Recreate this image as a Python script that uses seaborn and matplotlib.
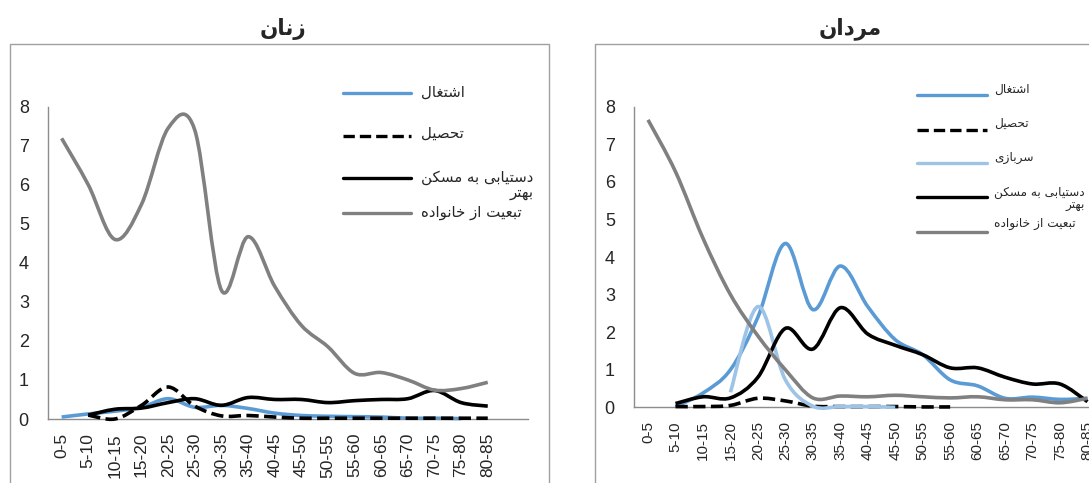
import numpy as np
import seaborn as sns
import matplotlib.pyplot as plt
from matplotlib.path import Path
from matplotlib.patches import PathPatch
from matplotlib.lines import Line2D

# age groups (last slot on the axis is empty)
age_groups = ['0-5', '5-10', '10-15', '15-20', '20-25', '25-30', '30-35', '35-40',
              '40-45', '45-50', '50-55', '55-60', '60-65', '65-70', '70-75', '75-80',
              '80-85', '']
nan = np.nan

# women
w_employment = [0.05, 0.13, 0.2, 0.3, 0.52, 0.3, 0.35, 0.27, 0.15, 0.09, 0.07, 0.06,
                0.05, 0.02, 0.02, 0.01, nan]
w_education = [nan, 0.1, 0.0, 0.35, 0.82, 0.33, 0.08, 0.09, 0.05, 0.02, 0.02, 0.02,
               0.02, 0.02, 0.02, 0.02, 0.02]
w_housing = [nan, 0.1, 0.25, 0.28, 0.42, 0.52, 0.35, 0.55, 0.5, 0.5, 0.42, 0.47,
             0.5, 0.52, 0.73, 0.42, 0.33]
w_family = [7.19, 6.0, 4.6, 5.5, 7.45, 7.4, 3.3, 4.67, 3.4, 2.4, 1.85, 1.17,
            1.19, 1.0, 0.74, 0.78, 0.94]

# men
m_employment = [nan, 0.02, 0.38, 1.0, 2.4, 4.36, 2.6, 3.76, 2.68, 1.8, 1.4, 0.73,
                0.57, 0.24, 0.27, 0.21, 0.24]
m_education = [nan, 0.02, 0.02, 0.05, 0.24, 0.17, 0.03, 0.02, 0.02, 0.02, 0.01, 0.01,
               nan, nan, nan, nan, nan]
m_military = [nan, nan, nan, 0.4, 2.68, 0.73, 0.03, 0.02, 0.02, 0.0, nan, nan,
              nan, nan, nan, nan, nan]
m_housing = [nan, 0.1, 0.28, 0.25, 0.8, 2.1, 1.55, 2.65, 1.95, 1.65, 1.4, 1.05,
             1.05, 0.8, 0.62, 0.62, 0.15]
m_family = [7.65, 6.27, 4.5, 3.0, 1.9, 1.0, 0.25, 0.3, 0.28, 0.32, 0.28, 0.25,
            0.28, 0.2, 0.2, 0.12, 0.24]

# labels
title_women = 'زنان'
title_men = 'مردان'
lab_employment = 'اشتغال'
lab_education = 'تحصیل'
lab_military = 'سربازی'
lab_housing = 'دستیابی به مسکن\nبهتر'
lab_family = 'تبعیت از خانواده'

# --- simple Persian shaping (matplotlib has no RTL / joining support) ---
FORMS = {
    'ا': ('\uFE8D', '\uFE8E', None, None),
    'ب': ('\uFE8F', '\uFE90', '\uFE91', '\uFE92'),
    'ت': ('\uFE95', '\uFE96', '\uFE97', '\uFE98'),
    'ح': ('\uFEA1', '\uFEA2', '\uFEA3', '\uFEA4'),
    'خ': ('\uFEA5', '\uFEA6', '\uFEA7', '\uFEA8'),
    'د': ('\uFEA9', '\uFEAA', None, None),
    'ر': ('\uFEAD', '\uFEAE', None, None),
    'ز': ('\uFEAF', '\uFEB0', None, None),
    'س': ('\uFEB1', '\uFEB2', '\uFEB3', '\uFEB4'),
    'ش': ('\uFEB5', '\uFEB6', '\uFEB7', '\uFEB8'),
    'ص': ('\uFEB9', '\uFEBA', '\uFEBB', '\uFEBC'),
    'ع': ('\uFEC9', '\uFECA', '\uFECB', '\uFECC'),
    'غ': ('\uFECD', '\uFECE', '\uFECF', '\uFED0'),
    'ل': ('\uFEDD', '\uFEDE', '\uFEDF', '\uFEE0'),
    'م': ('\uFEE1', '\uFEE2', '\uFEE3', '\uFEE4'),
    'ن': ('\uFEE5', '\uFEE6', '\uFEE7', '\uFEE8'),
    'ه': ('\uFEE9', '\uFEEA', '\uFEEB', '\uFEEC'),
    'و': ('\uFEED', '\uFEEE', None, None),
    'ک': ('\uFB8E', '\uFB8F', '\uFB90', '\uFB91'),
    'ی': ('\uFBFC', '\uFBFD', '\uFBFE', '\uFBFF'),
}


def fa(txt):
    lines = []
    for line in txt.split('\n'):
        res = []
        for i, c in enumerate(line):
            if c not in FORMS:
                res.append(c)
                continue
            prev = line[i - 1] if i > 0 else None
            nxt = line[i + 1] if i + 1 < len(line) else None
            jp = prev in FORMS and FORMS[prev][2] is not None
            jn = FORMS[c][2] is not None and nxt in FORMS
            iso, fin, ini, med = FORMS[c]
            res.append(med if jp and jn else fin if jp else ini if jn else iso)
        lines.append(''.join(reversed(res)))
    return '\n'.join(lines)


def smooth_line(ax, values, color, lw=2.6, dashed=False, z=2):
    # excel-like smoothed line: cubic bezier through the points
    y = np.array(values, dtype=float)
    x = np.arange(len(y), dtype=float)
    idx = np.where(~np.isnan(y))[0]
    pts = np.column_stack([x[idx], y[idx]])
    n = len(pts)
    verts = [pts[0]]
    codes = [Path.MOVETO]
    for i in range(n - 1):
        p0 = pts[i - 1] if i > 0 else pts[i]
        p1, p2 = pts[i], pts[i + 1]
        p3 = pts[i + 2] if i + 2 < n else pts[i + 1]
        verts += [p1 + (p2 - p0) / 6, p2 - (p3 - p1) / 6, p2]
        codes += [Path.CURVE4] * 3
    ls = (0, (3.4, 1.5)) if dashed else '-'
    patch = PathPatch(Path(verts, codes), fill=False, edgecolor=color, lw=lw,
                      linestyle=ls, capstyle='butt', joinstyle='round',
                      clip_on=False, zorder=z)
    ax.add_patch(patch)


sns.set_style('white')
plt.rcParams['font.family'] = ['Liberation Sans', 'DejaVu Sans']

BLUE = '#5b9bd5'
LIGHT = '#9dc3e6'
BLACK = '#000000'
GRAY = '#808080'
AXIS = '#8c8c8c'

fig = plt.figure(figsize=(10.89, 4.83), dpi=100)
W, H = 1089, 483

# overlay in pixel coordinates for panel frames, titles and legends
ov = fig.add_axes([0, 0, 1, 1], zorder=0)
ov.set_xlim(0, W)
ov.set_ylim(H, 0)
ov.axis('off')


def px_axes(x0, x1, y_top, y_zero):
    return fig.add_axes([x0 / W, (H - y_zero) / H, (x1 - x0) / W, (y_zero - y_top) / H])


ax_w = px_axes(48.3, 527.7, 106.7, 419)
ax_m = px_axes(634.3, 1128.7, 106.7, 407.3)

for ax, fs_x, xpad in [(ax_w, 12.5, 10), (ax_m, 11, 10)]:
    ax.patch.set_alpha(0)
    ax.set_xlim(-0.5, len(age_groups) - 0.5)
    ax.set_ylim(0, 8)
    sns.despine(ax=ax)
    for s in ['left', 'bottom']:
        ax.spines[s].set_color(AXIS)
        ax.spines[s].set_linewidth(1)
    ax.set_yticks(range(0, 9))
    ax.set_xticks(np.arange(-0.5, len(age_groups), 1))
    ax.set_xticklabels([])
    ax.set_xticks(np.arange(len(age_groups)), minor=True)
    ax.set_xticklabels(age_groups, minor=True, rotation=90, fontsize=fs_x)
    ax.tick_params(axis='x', which='major', length=5, width=1, color=AXIS, direction='out')
    ax.tick_params(axis='x', which='minor', length=0, pad=xpad)
    ax.tick_params(axis='y', length=5, width=1, color=AXIS, direction='out',
                   labelsize=13, pad=9)
    ax.grid(False)

# women
smooth_line(ax_w, w_employment, BLUE, z=2)
smooth_line(ax_w, w_education, BLACK, dashed=True, z=3)
smooth_line(ax_w, w_housing, BLACK, z=4)
smooth_line(ax_w, w_family, GRAY, z=5)

# men
smooth_line(ax_m, m_employment, BLUE, z=2)
smooth_line(ax_m, m_education, BLACK, dashed=True, z=3)
smooth_line(ax_m, m_military, LIGHT, z=4)
smooth_line(ax_m, m_housing, BLACK, z=5)
smooth_line(ax_m, m_family, GRAY, z=6)

# panel frames
FRAME = '#a0a0a0'
ov.plot([10, 10, 549, 549], [H, 44, 44, H], color=FRAME, lw=1)
ov.plot([595, 595, W + 5], [H, 44, 44], color=FRAME, lw=1)

# titles
ov.text(283, 29, fa(title_women), ha='center', va='center', fontsize=15.5,
        fontweight='bold', family='DejaVu Sans')
ov.text(850, 29, fa(title_men), ha='center', va='center', fontsize=15.5,
        fontweight='bold', family='DejaVu Sans')

# legends (drawn by hand, excel lays them out unevenly)
leg_w = [(lab_employment, BLUE, False, 93, 92),
         (lab_education, BLACK, True, 136, 133),
         (lab_housing, BLACK, False, 178, 185),
         (lab_family, GRAY, False, 213, 212)]
for lab, col, dash, yl, yt in leg_w:
    ov.add_line(Line2D([343, 411], [yl, yl], color=col, lw=2.4,
                       linestyle=(0, (3.4, 1.5)) if dash else '-'))
    ov.text(421, yt, fa(lab), ha='left', va='center', fontsize=10.8,
            family='DejaVu Sans', multialignment='right', linespacing=0.95)

leg_m = [(lab_employment, BLUE, False, 95, 89),
         (lab_education, BLACK, True, 130, 123),
         (lab_military, LIGHT, False, 163, 158),
         (lab_housing, BLACK, False, 197, 199),
         (lab_family, GRAY, False, 232, 224)]
for lab, col, dash, yl, yt in leg_m:
    ov.add_line(Line2D([917, 987], [yl, yl], color=col, lw=2.4,
                       linestyle=(0, (3.4, 1.5)) if dash else '-'))
    ov.text(994, yt, fa(lab), ha='left', va='center', fontsize=8.7,
            family='DejaVu Sans', multialignment='right', linespacing=0.95)

fig.savefig('out.png', dpi=100)
